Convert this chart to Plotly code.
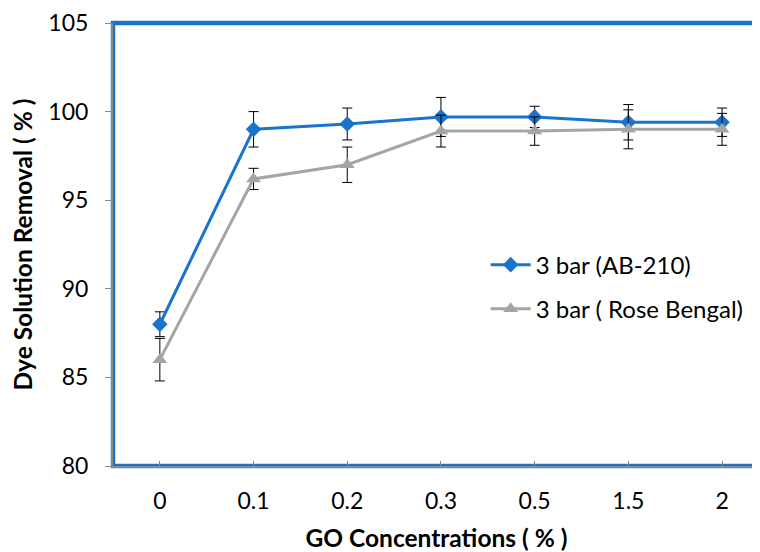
import plotly.graph_objects as go

categories = ["0", "0.1", "0.2", "0.3", "0.5", "1.5", "2"]
ab210 = [88.0, 99.0, 99.3, 99.7, 99.7, 99.4, 99.4]
ab210_err = [0.7, 1.0, 0.9, 1.1, 0.6, 1.0, 0.8]
rose = [86.0, 96.2, 97.0, 98.9, 98.9, 99.0, 99.0]
rose_err = [1.2, 0.6, 1.0, 0.9, 0.8, 1.1, 0.9]
y_ticks = [80, 85, 90, 95, 100, 105]

BLUE = "#1874CD"
GRAY = "#A5A5A5"
AXIS = "#898989"
FONT = "Lato, 'Open Sans', sans-serif"

xpos = list(range(len(categories)))

fig = go.Figure()
fig.add_trace(go.Scatter(
    x=xpos, y=ab210, name="3 bar (AB-210)", mode="lines+markers",
    line=dict(color=BLUE, width=3),
    marker=dict(symbol="diamond", size=12, color=BLUE),
    error_y=dict(type="data", array=ab210_err, color="black", thickness=1, width=5),
    legendgroup="a",
))
fig.add_trace(go.Scatter(
    x=xpos, y=rose, name="3 bar ( Rose Bengal)", mode="lines+markers",
    line=dict(color=GRAY, width=3),
    marker=dict(symbol="triangle-up", size=13, color=GRAY),
    error_y=dict(type="data", array=rose_err, color="black", thickness=1, width=5),
    legendgroup="b",
))

# blue frame around plot area (left, bottom, top; right side off-canvas)
fig.add_shape(type="path", xref="paper", yref="paper",
              path="M 1.05,0 L 0,0 L 0,1 L 1.05,1",
              line=dict(color=BLUE, width=4.5), layer="below")

fig.update_layout(
    width=752, height=544,
    margin=dict(l=105, r=0, t=15, b=86),
    plot_bgcolor="white", paper_bgcolor="white",
    font=dict(family=FONT, size=23, color="black"),
    showlegend=True,
    legend=dict(x=0.576, y=0.404, xanchor="left", yanchor="middle",
                bgcolor="rgba(0,0,0,0)", font=dict(size=24),
                tracegroupgap=10, itemwidth=40),
    xaxis=dict(
        range=[-0.5, -0.5 + 647 / 93.7],
        tickmode="array", tickvals=xpos, ticktext=categories,
        showline=True, linecolor=AXIS, linewidth=2,
        ticks="inside", ticklen=5, tickcolor=AXIS, tickwidth=1,
        showgrid=False, zeroline=False,
        ticklabelstandoff=13,
        title=dict(text="<b>GO Concentrations ( % )</b>", font=dict(size=24.5), standoff=19),
        tickfont=dict(size=23),
    ),
    yaxis=dict(
        range=[80, 105], tickvals=y_ticks,
        showline=True, linecolor=AXIS, linewidth=2,
        ticks="outside", ticklen=6, tickcolor=AXIS, tickwidth=1,
        showgrid=False, zeroline=False,
        ticklabelstandoff=12,
        title=dict(text="<b>Dye Solution Removal ( % )</b>", font=dict(size=24.5), standoff=15),
        tickfont=dict(size=23),
    ),
)

fig.write_html("out.html")
